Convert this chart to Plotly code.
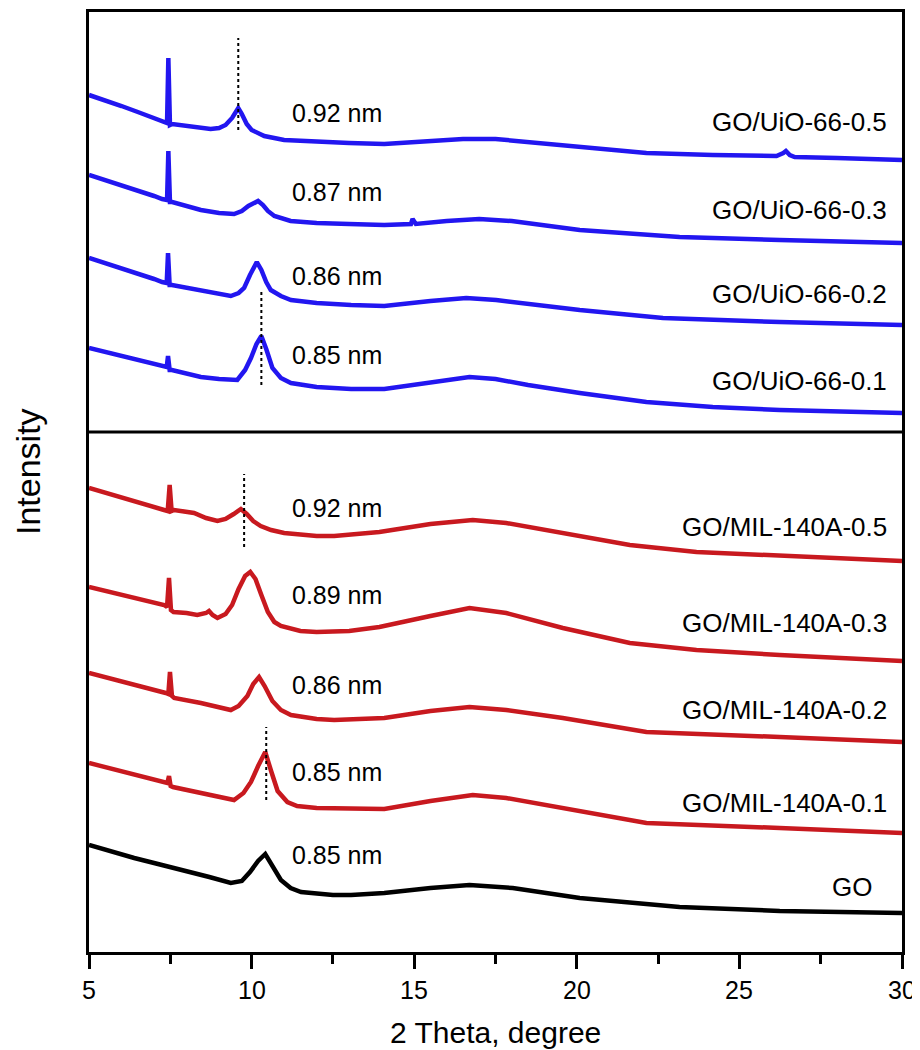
import plotly.graph_objects as go

# ---------------- data (2θ in degree, intensity in stacked display units) ----------------
uio05_x = [5.0, 5.5, 6.0, 6.5, 7.0, 7.31, 7.40, 7.44, 7.49, 7.56, 8.13, 8.74, 9.0, 9.2, 9.4, 9.59, 9.7, 9.85, 10.0,
           10.39, 11.0, 12.0, 13.0, 14.08, 15.5, 16.5, 17.5, 18.5, 20.09, 22.14, 24.18, 26.14, 26.35, 26.43, 26.55,
           26.7, 28.0, 30.0]
uio05_y = [857, 852, 846, 840, 834, 830, 829, 894, 827, 828, 826, 823, 824, 827, 834, 844, 838, 828, 822,
           816, 812, 810, 809, 808, 811, 813, 813, 810, 805, 799, 797, 796, 799, 801, 797,
           795, 794, 792]

uio03_x = [5.0, 5.5, 6.0, 6.5, 7.0, 7.25, 7.40, 7.44, 7.49, 7.56, 8.0, 8.44, 9.0, 9.46, 9.7, 9.9, 10.2, 10.35, 10.5,
           10.7, 11.2, 12.0, 13.0, 14.08, 14.9, 14.95, 15.05, 16.0, 17.0, 18.0, 20.09, 23.16, 26.24, 30.0]
uio03_y = [777, 772, 767, 761, 756, 753, 752, 801, 750, 750, 746, 742, 739, 738, 741, 746, 751, 747, 741,
           736, 731, 729, 728, 727, 728, 733, 728, 731, 733, 731, 722, 715, 712, 709]

uio02_x = [5.0, 5.5, 6.0, 6.5, 7.0, 7.25, 7.39, 7.43, 7.48, 7.55, 8.44, 9.0, 9.36, 9.6, 9.77, 9.95, 10.16, 10.3,
           10.45, 10.59, 10.9, 11.21, 12.0, 13.06, 14.08, 15.5, 16.6, 17.52, 18.5, 20.09, 22.65, 26.24, 30.0]
uio02_y = [694, 689, 684, 678, 673, 670, 669, 699, 667, 667, 662, 658, 656, 659, 664, 677, 690, 682,
           670, 662, 656, 652, 649, 647, 646, 651, 654, 652, 648, 642, 634, 630, 627]

uio01_x = [5.0, 5.5, 6.0, 6.5, 7.0, 7.25, 7.39, 7.43, 7.48, 7.55, 8.44, 9.0, 9.56, 9.8, 9.98, 10.15, 10.3, 10.45,
           10.64, 10.9, 11.21, 12.0, 13.06, 14.08, 15.47, 16.7, 17.5, 18.5, 20.09, 22.14, 24.18, 26.24, 30.0]
uio01_y = [604, 600, 596, 592, 589, 587, 585, 596, 582, 582, 575, 573, 572, 582, 594, 608, 616, 603,
           584, 574, 569, 565, 563, 563, 569, 575, 573, 567, 559, 550, 545, 542, 539]

mil05_x = [5.0, 5.5, 6.2, 6.8, 7.31, 7.42, 7.48, 7.54, 7.62, 8.23, 8.6, 8.95, 9.2, 9.45, 9.67, 9.85, 10.05, 10.28,
           10.6, 11.0, 12.0, 12.54, 13.93, 15.5, 16.8, 17.83, 19.57, 21.63, 23.68, 26.24, 30.0]
mil05_y = [464, 459, 453, 447, 442, 441, 467, 441, 442, 439, 434, 431, 433, 438, 443, 438, 431, 426,
           422, 419, 416, 416, 420, 428, 432, 429, 419, 407, 400, 396, 391]

mil03_x = [5.0, 5.5, 6.2, 6.8, 7.31, 7.40, 7.46, 7.52, 7.60, 8.0, 8.33, 8.6, 8.69, 8.8, 8.95, 9.2, 9.4, 9.6, 9.8,
           9.96, 10.12, 10.3, 10.5, 10.7, 10.9, 11.5, 12.0, 13.0, 13.93, 15.5, 16.7, 17.83, 19.57, 21.63, 23.68,
           26.24, 30.0]
mil03_y = [365, 361, 355, 350, 347, 345, 374, 342, 340, 339, 337, 339, 341, 337, 334, 338, 347, 363, 376,
           380, 373, 357, 340, 330, 326, 321, 320, 321, 325, 336, 344, 339, 324, 309, 302,
           297, 291]

mil02_x = [5.0, 5.5, 6.2, 6.8, 7.36, 7.44, 7.49, 7.55, 7.62, 8.44, 9.0, 9.36, 9.6, 9.87, 10.05, 10.23, 10.4, 10.64,
           10.9, 11.21, 12.0, 12.54, 14.08, 15.5, 16.7, 17.83, 19.57, 22.14, 26.24, 30.0]
mil02_y = [279, 275, 269, 264, 259, 258, 280, 256, 254, 249, 245, 242, 246, 256, 268, 275, 266, 251,
           242, 237, 233, 232, 234, 241, 245, 242, 234, 220, 215, 210]

mil01_x = [5.0, 5.5, 6.2, 6.8, 7.31, 7.41, 7.46, 7.51, 7.58, 8.44, 9.0, 9.46, 9.75, 9.98, 10.2, 10.42, 10.6, 10.8,
           11.1, 11.4, 12.0, 13.06, 14.08, 15.5, 16.8, 17.83, 19.57, 22.14, 26.24, 30.0]
mil01_y = [189, 185, 179, 174, 170, 169, 176, 166, 165, 159, 155, 152, 159, 170, 186, 200, 181, 161,
           150, 146, 144, 144, 143, 151, 157, 154, 144, 129, 124, 119]

go_x = [5.0, 5.5, 6.39, 7.0, 7.92, 8.7, 9.36, 9.7, 9.95, 10.2, 10.42, 10.6, 10.9, 11.2, 11.52, 12.5, 13.06, 14.08,
        15.5, 16.7, 18.03, 20.09, 23.16, 26.24, 30.0]
go_y = [107, 102, 94, 89, 82, 75, 69, 71, 80, 91, 98, 89, 72, 64, 60, 57, 57, 59,
        64, 67, 64, 54, 45, 41, 39]

series_names = ["GO/UiO-66-0.5", "GO/UiO-66-0.3", "GO/UiO-66-0.2", "GO/UiO-66-0.1",
                "GO/MIL-140A-0.5", "GO/MIL-140A-0.3", "GO/MIL-140A-0.2", "GO/MIL-140A-0.1", "GO"]
series_x = [uio05_x, uio03_x, uio02_x, uio01_x, mil05_x, mil03_x, mil02_x, mil01_x, go_x]
series_y = [uio05_y, uio03_y, uio02_y, uio01_y, mil05_y, mil03_y, mil02_y, mil01_y, go_y]
series_colors = ["#2216f0"] * 4 + ["#c8191f"] * 4 + ["#000000"]

# interlayer spacing labels
spacing_labels = ["0.92 nm", "0.87 nm", "0.86 nm", "0.85 nm",
                  "0.92 nm", "0.89 nm", "0.86 nm", "0.85 nm", "0.85 nm"]
spacing_y = [839, 760, 676, 597, 444, 357, 267, 180, 97]
spacing_x = 11.19

name_y = [830, 742, 658, 571, 425, 329, 242, 149, 65]
name_x = [29.6] * 8 + [29.15]

# dashed peak markers: position, from, to
dash_x = [9.59, 10.3, 9.77, 10.45]
dash_y0 = [822, 567, 405, 152]
dash_y1 = [914, 662, 478, 225]

panel_divider = 520

x_ticks = [5, 10, 15, 20, 25, 30]
x_tick_labels = ["5", "10", "15", "20", "25", "30"]

# ---------------- figure ----------------
fig = go.Figure()
for nm, xs, ys, c in zip(series_names, series_x, series_y, series_colors):
    fig.add_trace(go.Scatter(x=xs, y=ys, mode="lines", name=nm,
                             line=dict(color=c, width=4.5), showlegend=False))

for xv, y0, y1 in zip(dash_x, dash_y0, dash_y1):
    fig.add_shape(type="line", x0=xv, x1=xv, y0=y0, y1=y1, xref="x", yref="y",
                  line=dict(color="black", width=2, dash="3px,3px"))

fig.add_shape(type="line", x0=0, x1=1, xref="paper", y0=panel_divider, y1=panel_divider, yref="y",
              line=dict(color="black", width=3))

for t, yv in zip(spacing_labels, spacing_y):
    fig.add_annotation(x=spacing_x, y=yv, text=t, showarrow=False, xanchor="left", yanchor="middle",
                       font=dict(family="Liberation Sans, Arial, sans-serif", size=25, color="black"))

for t, xv, yv in zip(series_names, name_x, name_y):
    fig.add_annotation(x=xv, y=yv, text=t, showarrow=False, xanchor="right", yanchor="middle",
                       font=dict(family="Liberation Sans, Arial, sans-serif", size=26, color="black"))

# x tick labels, placed at the tick values below the axis
for xv, t in zip(x_ticks, x_tick_labels):
    fig.add_annotation(x=xv, y=0, xref="x", yref="paper", text=t, showarrow=False,
                       xanchor="center", yanchor="middle", yshift=-38,
                       font=dict(family="Liberation Sans, Arial, sans-serif", size=25, color="black"))

# axis titles
fig.add_annotation(x=0.5, y=0, xref="paper", yref="paper", text="2 Theta, degree", showarrow=False,
                   xanchor="center", yanchor="middle", yshift=-80,
                   font=dict(family="Liberation Sans, Arial, sans-serif", size=30, color="black"))
fig.add_annotation(x=0, y=0.5106, xref="paper", yref="paper", text="Intensity", showarrow=False,
                   xanchor="center", yanchor="middle", xshift=-61, textangle=-90,
                   font=dict(family="Liberation Sans, Arial, sans-serif", size=34, color="black"))

# page body adds 8 px on each side, so the figure is 8 px smaller and the margins shifted
fig.update_layout(
    width=912, height=1042,
    margin=dict(l=81, r=18, t=4, b=98),
    paper_bgcolor="white", plot_bgcolor="white",
    font=dict(family="Liberation Sans, Arial, sans-serif", color="black"),
)
fig.update_xaxes(range=[5, 30], tickvals=x_ticks, showticklabels=False,
                 ticks="outside", ticklen=14, tickwidth=2.5, tickcolor="black",
                 minor=dict(ticks="outside", ticklen=9, tickwidth=2.5, tickcolor="black", dtick=2.5, tick0=5),
                 showline=True, linewidth=3, linecolor="black", mirror=True,
                 showgrid=False, zeroline=False, automargin=False)
fig.update_yaxes(range=[0, 940], showticklabels=False, ticks="",
                 showline=True, linewidth=3, linecolor="black", mirror=True,
                 showgrid=False, zeroline=False, automargin=False)

fig.write_html("out.html")
